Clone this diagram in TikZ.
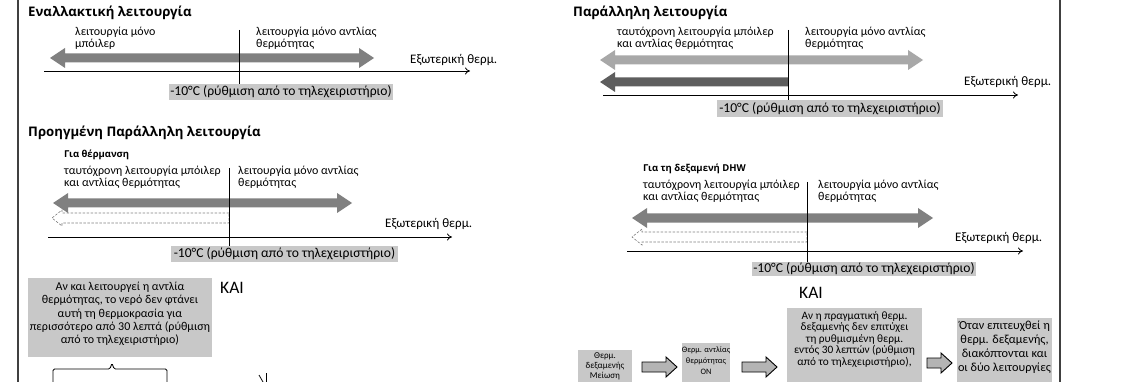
\documentclass[tikz,border=0pt]{standalone}
\usepackage{fontspec}
\setmainfont{Carlito}
\newfontfamily\tfont{Open Sans}
\usetikzlibrary{arrows.meta}
\definecolor{boxgray}{HTML}{C8C8C8}
\definecolor{midgray}{HTML}{808080}
\definecolor{lightgray2}{HTML}{A8A8A8}
\definecolor{darkgray2}{HTML}{5E5E5E}
\definecolor{framecol}{HTML}{404040}
\definecolor{blockgray}{HTML}{B4B4B4}
\tikzset{
 title/.style={anchor=west, inner sep=0, font=\tfont\bfseries\fontsize{13.2}{15}\selectfont},
 subtitle/.style={anchor=west, inner sep=0, font=\tfont\bfseries\fontsize{9.5}{11}\selectfont},
 lbl/.style={anchor=north west, inner sep=0, align=left, font=\fontsize{12}{11.7}\selectfont},
 axislbl/.style={anchor=west, inner sep=0, font=\fontsize{13}{14}\selectfont},
 setbox/.style={fill=boxgray, inner sep=0, font=\fontsize{13.6}{15}\selectfont},
 axisline/.style={draw=black, line width=0.8pt, -{To[length=5pt,width=7pt]}},
 tickline/.style={draw=black, line width=0.8pt},
 dashshape/.style={draw=gray, line width=0.6pt, dash pattern=on 2.5pt off 1.5pt},
 graybox/.style={fill=boxgray, inner sep=0, anchor=north west},
 boxtext/.style={inner sep=0, align=center, anchor=north},
 kai/.style={anchor=west, inner sep=0, font=\fontsize{17.5}{19}\selectfont},
 blockarrow/.style={fill=blockgray, draw=black, line width=0.9pt},
 framerule/.style={draw=framecol, line width=1.6pt},
}
\newcommand\dblarr[4]{\fill[#4] (#1,#3) -- (#1+15,#3-10) -- (#1+15,#3-4.5) -- (#2-15,#3-4.5) -- (#2-15,#3-10) -- (#2,#3) -- (#2-15,#3+10) -- (#2-15,#3+4.5) -- (#1+15,#3+4.5) -- (#1+15,#3+10) -- cycle;}
\newcommand\leftarr[4]{\fill[#4] (#1,#3) -- (#1+15,#3-10) -- (#1+15,#3-4.5) -- (#2,#3-4.5) -- (#2,#3+4.5) -- (#1+15,#3+4.5) -- (#1+15,#3+10) -- cycle;}
\newcommand\dasharr[3]{\draw[dashshape] (#2,#3-5) -- (#1+10,#3-5) -- (#1+10,#3-8) -- (#1,#3) -- (#1+10,#3+8) -- (#1+10,#3+5) -- (#2,#3+5) -- cycle;}
\newcommand\blockarr[3]{\filldraw[blockarrow] (#1,#3-5) -- (#2-11,#3-5) -- (#2-11,#3-10) -- (#2,#3) -- (#2-11,#3+10) -- (#2-11,#3+5) -- (#1,#3+5) -- cycle;}
\begin{document}
\begin{tikzpicture}[x=1pt,y=-1pt]
\useasboundingbox (0,0) rectangle (1124,382);
\fill[white] (0,0) rectangle (1124,382);
\clip (0,0) rectangle (1124,382);
% frame rules
\draw[framerule] (18,0) -- (18,382);
\draw[framerule] (1060,0) -- (1060,382);

% ---------- Top left: Εναλλακτική λειτουργία
\node[title] (t1) at (28,13) {Εναλλακτική λειτουργία};
\node[lbl] (l1a) at (75,27) {λειτουργία μόνο\\μπόιλερ};
\node[lbl] (l1b) at (256,27) {λειτουργία μόνο αντλίας\\θερμότητας};
\dblarr{50}{374}{58}{midgray}
\node[setbox, minimum width=224, minimum height=16] (s1) at (281,92) {-10°C (ρύθμιση από το τηλεχειριστήριο)};
\coordinate (v1) at (239,30);
\draw[tickline] (v1) -- (v1 |- s1.north);
\coordinate (a1s) at (44,71);
\coordinate (a1e) at (470,71);
\draw[axisline] (a1s) -- (a1e);
\node[axislbl] (x1) at (410,60) {Εξωτερική θερμ.};

% ---------- Top right: Παράλληλη λειτουργία
\node[title] (t2) at (573,13) {Παράλληλη λειτουργία};
\node[lbl] (l2a) at (617,27) {ταυτόχρονη λειτουργία μπόιλερ\\και αντλίας θερμότητας};
\node[lbl] (l2b) at (805,27) {λειτουργία μόνο αντλίας\\θερμότητας};
\dblarr{600}{923}{60}{lightgray2}
\leftarr{600}{788}{82}{darkgray2}
\node[setbox, minimum width=226, minimum height=17] (s2) at (830,108.5) {-10°C (ρύθμιση από το τηλεχειριστήριο)};
\coordinate (v2) at (788,30);
\draw[tickline] (v2) -- (v2 |- s2.north);
\coordinate (a2s) at (603,95);
\coordinate (a2e) at (1018,95);
\draw[axisline] (a2s) -- (a2e);
\node[axislbl] (x2) at (964,82) {Εξωτερική θερμ.};

% ---------- Middle left: Προηγμένη Παράλληλη λειτουργία
\node[title] (t3) at (28,133) {Προηγμένη Παράλληλη λειτουργία};
\node[subtitle] (t3b) at (64,155) {Για θέρμανση};
\node[lbl] (l3a) at (64,166) {ταυτόχρονη λειτουργία μπόιλερ\\και αντλίας θερμότητας};
\node[lbl] (l3b) at (238,166) {λειτουργία μόνο αντλίας\\θερμότητας};
\dblarr{53}{352}{203}{midgray}
\dasharr{52}{229}{218}
\node[setbox, minimum width=227, minimum height=16] (s3) at (284.5,254) {-10°C (ρύθμιση από το τηλεχειριστήριο)};
\coordinate (v3) at (229,168);
\draw[tickline] (v3) -- (v3 |- s3.north);
\coordinate (a3s) at (48,237);
\coordinate (a3e) at (452,237);
\draw[axisline] (a3s) -- (a3e);
\node[axislbl] (x3) at (385,224) {Εξωτερική θερμ.};

% ---------- Middle right: Για τη δεξαμενή DHW
\node[subtitle] (t4) at (643,169) {Για τη δεξαμενή DHW};
\node[lbl] (l4a) at (643,180) {ταυτόχρονη λειτουργία μπόιλερ\\και αντλίας θερμότητας};
\node[lbl] (l4b) at (818,180) {λειτουργία μόνο αντλίας\\θερμότητας};
\dblarr{632}{933}{218}{midgray}
\dasharr{632}{807}{237}
\node[setbox, minimum width=224, minimum height=14] (s4) at (864,269) {-10°C (ρύθμιση από το τηλεχειριστήριο)};
\coordinate (v4) at (807,182);
\draw[tickline] (v4) -- (v4 |- s4.north);
\coordinate (a4s) at (627,251);
\coordinate (a4e) at (1023,251);
\draw[axisline] (a4s) -- (a4e);
\node[axislbl] (x4) at (955,238) {Εξωτερική θερμ.};

% ---------- Bottom
\node[kai] (k1) at (220,288) {KAI};
\node[kai] (k2) at (799,293) {KAI};

\node[graybox, minimum width=184, minimum height=79] (b0) at (28,278) {};
\node[boxtext, font=\fontsize{12}{13.3}\selectfont] (b0t) at (120,282) {Αν και λειτουργεί η αντλία\\θερμότητας, το νερό δεν φτάνει\\αυτή τη θερμοκρασία για\\περισσότερο από 30 λεπτά (ρύθμιση\\από το τηλεχειριστήριο)};
\draw[line width=0.8pt, rounded corners=1.5pt] (53,384) -- (53,369) -- (110,369) -- (112,363) -- (114,369) -- (167,369) -- (167,384);
\draw[line width=0.8pt] (259,375) -- (263,382);
\draw[line width=0.8pt] (266,373) -- (266,384);

\node[graybox, minimum width=54, minimum height=40] (b1) at (578,350) {};
\node[boxtext, font=\fontsize{9}{10.3}\selectfont] (b1t) at (605,352) {Θερμ.\\δεξαμενής\\Μείωση};
\node[graybox, minimum width=48, minimum height=45] (b2) at (682,343) {};
\node[boxtext, font=\fontsize{8.3}{11}\selectfont] (b2t) at (706,346) {Θερμ. αντλίας\\θερμότητας\\ON};
\node[graybox, minimum width=135, minimum height=80] (b3) at (787,308) {};
\node[boxtext, font=\fontsize{11.3}{11.6}\selectfont] (b3t) at (854.5,311) {Αν η πραγματική θερμ.\\δεξαμενής δεν επιτύχει\\τη ρυθμισμένη θερμ.\\εντός 30 λεπτών (ρύθμιση\\από το τηλεχειριστήριο),};
\node[graybox, minimum width=95, minimum height=70] (b4) at (957,318) {};
\node[boxtext, font=\fontsize{12.3}{14}\selectfont] (b4t) at (1004.5,321) {Όταν επιτευχθεί η\\θερμ. δεξαμενής,\\διακόπτονται και\\οι δύο λειτουργίες};
\blockarr{642}{677}{367}
\blockarr{742}{777}{367}
\blockarr{927}{952}{363}
\end{tikzpicture}
\end{document}
